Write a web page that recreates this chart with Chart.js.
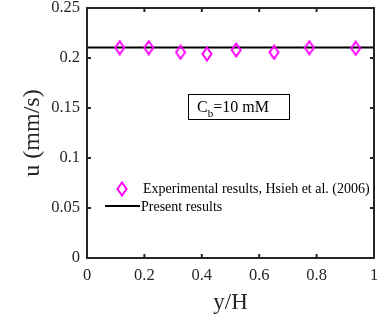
<!DOCTYPE html>
<html lang="en">
<head>
    <meta charset="utf-8">
    <title>Velocity profile</title>
    <script src="https://cdn.jsdelivr.net/npm/chart.js@4.4.1/dist/chart.umd.min.js"></script>
    <style>
        body { margin: 0; background: #fff; }
        #wrap { width: 382px; height: 321px; }
    </style>
</head>
<body>
    <div id="wrap"><canvas id="chart" width="382" height="321"></canvas></div>
    <script>
        // experimental points (Hsieh et al. 2006)
        const expY = [0.114, 0.215, 0.326, 0.418, 0.52, 0.652, 0.775, 0.936];
        const expU = [0.2103, 0.2103, 0.2057, 0.2040, 0.2080, 0.2057, 0.2103, 0.2097];
        // model result
        const modelY = [0, 1];
        const modelU = [0.2105, 0.2105];

        const xTicks = [0, 0.2, 0.4, 0.6, 0.8, 1];
        const yTicks = [0, 0.05, 0.1, 0.15, 0.2, 0.25];

        const FONT = '"Liberation Serif", "Times New Roman", serif';

        // MATLAB-like tall diamond marker
        function diamond() {
            const c = document.createElement('canvas');
            c.width = 12; c.height = 16;
            const g = c.getContext('2d');
            g.strokeStyle = '#ff00ff';
            g.lineWidth = 2;
            g.beginPath();
            g.moveTo(6, 1.5); g.lineTo(10.5, 8); g.lineTo(6, 14.5); g.lineTo(1.5, 8);
            g.closePath();
            g.stroke();
            return c;
        }
        const marker = diamond();

        const framePlugin = {
            id: 'frame',
            afterDatasetsDraw(chart) {
                const { ctx, chartArea: a, scales } = chart;
                ctx.save();
                ctx.strokeStyle = '#262626';
                ctx.lineWidth = 2;
                ctx.strokeRect(a.left, a.top, a.right - a.left, a.bottom - a.top);
                // inward ticks on all four sides
                ctx.beginPath();
                xTicks.forEach(v => {
                    const px = scales.x.getPixelForValue(v);
                    ctx.moveTo(px, a.bottom); ctx.lineTo(px, a.bottom - 4);
                    ctx.moveTo(px, a.top); ctx.lineTo(px, a.top + 4);
                });
                yTicks.forEach(v => {
                    const py = scales.y.getPixelForValue(v);
                    ctx.moveTo(a.left, py); ctx.lineTo(a.left + 4, py);
                    ctx.moveTo(a.right, py); ctx.lineTo(a.right - 4, py);
                });
                ctx.stroke();

                // annotation box
                const bx = 188, by = 94, bw = 101, bh = 25;
                ctx.lineWidth = 1;
                ctx.strokeStyle = '#000';
                ctx.strokeRect(bx + 0.5, by + 0.5, bw, bh);
                ctx.fillStyle = '#000';
                ctx.textBaseline = 'alphabetic';
                ctx.textAlign = 'left';
                ctx.font = '16px ' + FONT;
                ctx.fillText('C', 197, 112);
                const w = ctx.measureText('C').width;
                ctx.font = '11px ' + FONT;
                ctx.fillText('b', 197 + w, 117);
                const wb = ctx.measureText('b').width;
                ctx.font = '16px ' + FONT;
                ctx.fillText('=10 mM', 197 + w + wb, 112);

                // legend
                const ds = chart.data.datasets;
                ctx.font = '14px ' + FONT;
                ctx.textBaseline = 'middle';
                ctx.drawImage(marker, 116, 181);
                ctx.fillText(ds[0].label, 143, 189);
                ctx.lineWidth = 2;
                ctx.beginPath();
                ctx.moveTo(105, 206); ctx.lineTo(140, 206);
                ctx.stroke();
                ctx.fillText(ds[1].label, 141, 207);
                ctx.restore();
            }
        };

        new Chart(document.getElementById('chart'), {
            type: 'scatter',
            data: {
                datasets: [{
                    label: 'Experimental results, Hsieh et al. (2006)',
                    data: expY.map((y, i) => ({ x: y, y: expU[i] })),
                    pointStyle: marker,
                    pointRadius: 7,
                    showLine: false,
                    order: 0
                }, {
                    label: 'Present results',
                    data: modelY.map((y, i) => ({ x: y, y: modelU[i] })),
                    showLine: true,
                    borderColor: '#000',
                    borderWidth: 2,
                    pointRadius: 0,
                    order: 1
                }]
            },
            options: {
                responsive: false,
                animation: false,
                layout: { padding: { left: 0, top: 8, right: 5, bottom: 0 } },
                plugins: {
                    legend: { display: false },
                    tooltip: { enabled: false }
                },
                scales: {
                    x: {
                        type: 'linear',
                        min: 0, max: 1,
                        afterBuildTicks: s => { s.ticks = xTicks.map(v => ({ value: v })); },
                        afterFit: s => { s.height = 63; s.paddingLeft = 0; s.paddingRight = 0; },
                        ticks: {
                            color: '#262626',
                            font: { family: FONT, size: 16.5 },
                            padding: 8,
                            maxRotation: 0,
                            callback: v => String(v)
                        },
                        grid: { display: false, drawTicks: false },
                        border: { display: false },
                        title: {
                            display: true,
                            text: 'y/H',
                            color: '#262626',
                            font: { family: FONT, size: 23 },
                            padding: { top: 2, bottom: 4 }
                        }
                    },
                    y: {
                        type: 'linear',
                        min: 0, max: 0.25,
                        afterBuildTicks: s => { s.ticks = yTicks.map(v => ({ value: v })); },
                        afterFit: s => { s.width = 87; s.paddingTop = 0; s.paddingBottom = 0; },
                        ticks: {
                            color: '#262626',
                            font: { family: FONT, size: 16.5 },
                            padding: 7,
                            callback: v => String(v)
                        },
                        grid: { display: false, drawTicks: false },
                        border: { display: false },
                        title: {
                            display: true,
                            text: 'u (mm/s)',
                            color: '#262626',
                            font: { family: FONT, size: 24 },
                            padding: { top: 18, bottom: 4 }
                        }
                    }
                }
            },
            plugins: [framePlugin]
        });
    </script>
</body>
</html>
